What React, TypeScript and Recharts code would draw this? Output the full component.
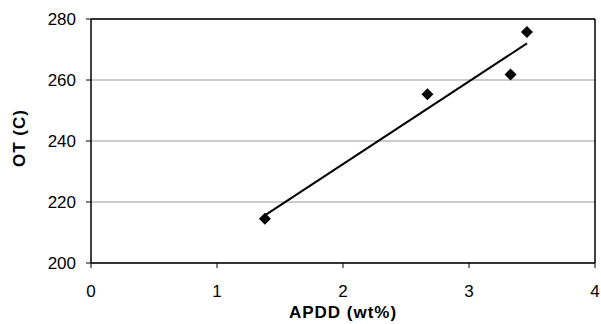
import React from "react";
import {
  ScatterChart,
  Scatter,
  XAxis,
  YAxis,
  CartesianGrid,
  ReferenceLine,
} from "recharts";

const apdd = [1.38, 2.67, 3.33, 3.46];
const ot = [214.5, 255.3, 261.8, 275.7];
const trendX = [1.38, 3.46];
const trendY = [215.6, 272.0];
const xTicks = [0, 1, 2, 3, 4];
const yTicks = [200, 220, 240, 260, 280];

const points = apdd.map((x, i) => ({ x, y: ot[i] }));
const trend = trendX.map((x, i) => ({ x, y: trendY[i] }));

const FONT = "'Liberation Sans', Arial, Helvetica, sans-serif";

const Diamond = (props: any) => {
  const { cx, cy } = props;
  const r = 6;
  return (
    <path
      d={`M${cx},${cy - r}L${cx + r},${cy}L${cx},${cy + r}L${cx - r},${cy}Z`}
      fill="#000"
    />
  );
};

const YLabel = (props: any) => {
  const vb = props.viewBox || {};
  const x = (vb.x || 0) + 25;
  const y = (vb.y || 0) + (vb.height || 0) / 2 - 3;
  return (
    <text
      x={x}
      y={y}
      transform={`rotate(-90, ${x}, ${y})`}
      textAnchor="middle"
      fontFamily={FONT}
      fontWeight="bold"
      fontSize={17}
      letterSpacing={1}
      fill="#000"
    >
      OT (C)
    </text>
  );
};

const XLabel = (props: any) => {
  const vb = props.viewBox || {};
  const x = (vb.x || 0) + (vb.width || 0) / 2;
  const y = (vb.y || 0) + 55;
  return (
    <text
      x={x}
      y={y}
      textAnchor="middle"
      fontFamily={FONT}
      fontWeight="bold"
      fontSize={17}
      letterSpacing={1}
      fill="#000"
    >
      APDD (wt%)
    </text>
  );
};

export default function App() {
  return (
    <div style={{ position: "absolute", left: 0, top: 0, background: "#fff" }}>
      <ScatterChart
        width={601}
        height={324}
        margin={{ top: 19, right: 6, bottom: 0, left: 0 }}
      >
        <CartesianGrid
          horizontal={true}
          vertical={false}
          stroke="#999"
          strokeWidth={1}
        />
        <XAxis
          type="number"
          dataKey="x"
          domain={[0, 4]}
          ticks={xTicks}
          height={61}
          tickSize={5}
          tickMargin={17}
          axisLine={{ stroke: "#000", strokeWidth: 1.5 }}
          tickLine={{ stroke: "#000" }}
          tick={{ fill: "#000", fontSize: 17, fontFamily: FONT }}
          allowDataOverflow
          label={<XLabel />}
        />
        <YAxis
          type="number"
          dataKey="y"
          domain={[200, 280]}
          ticks={yTicks}
          width={91}
          tickSize={5}
          tickMargin={10}
          axisLine={{ stroke: "#000", strokeWidth: 1.5 }}
          tickLine={{ stroke: "#000" }}
          tick={{ fill: "#000", fontSize: 17, fontFamily: FONT }}
          allowDataOverflow
          label={<YLabel />}
        />
        <ReferenceLine y={280} stroke="#000" strokeWidth={1.5} />
        <ReferenceLine x={4} stroke="#000" strokeWidth={1.5} />
        <Scatter
          data={trend}
          line={{ stroke: "#000", strokeWidth: 2 }}
          shape={() => null}
          isAnimationActive={false}
        />
        <Scatter
          data={points}
          shape={<Diamond />}
          isAnimationActive={false}
        />
      </ScatterChart>
    </div>
  );
}
